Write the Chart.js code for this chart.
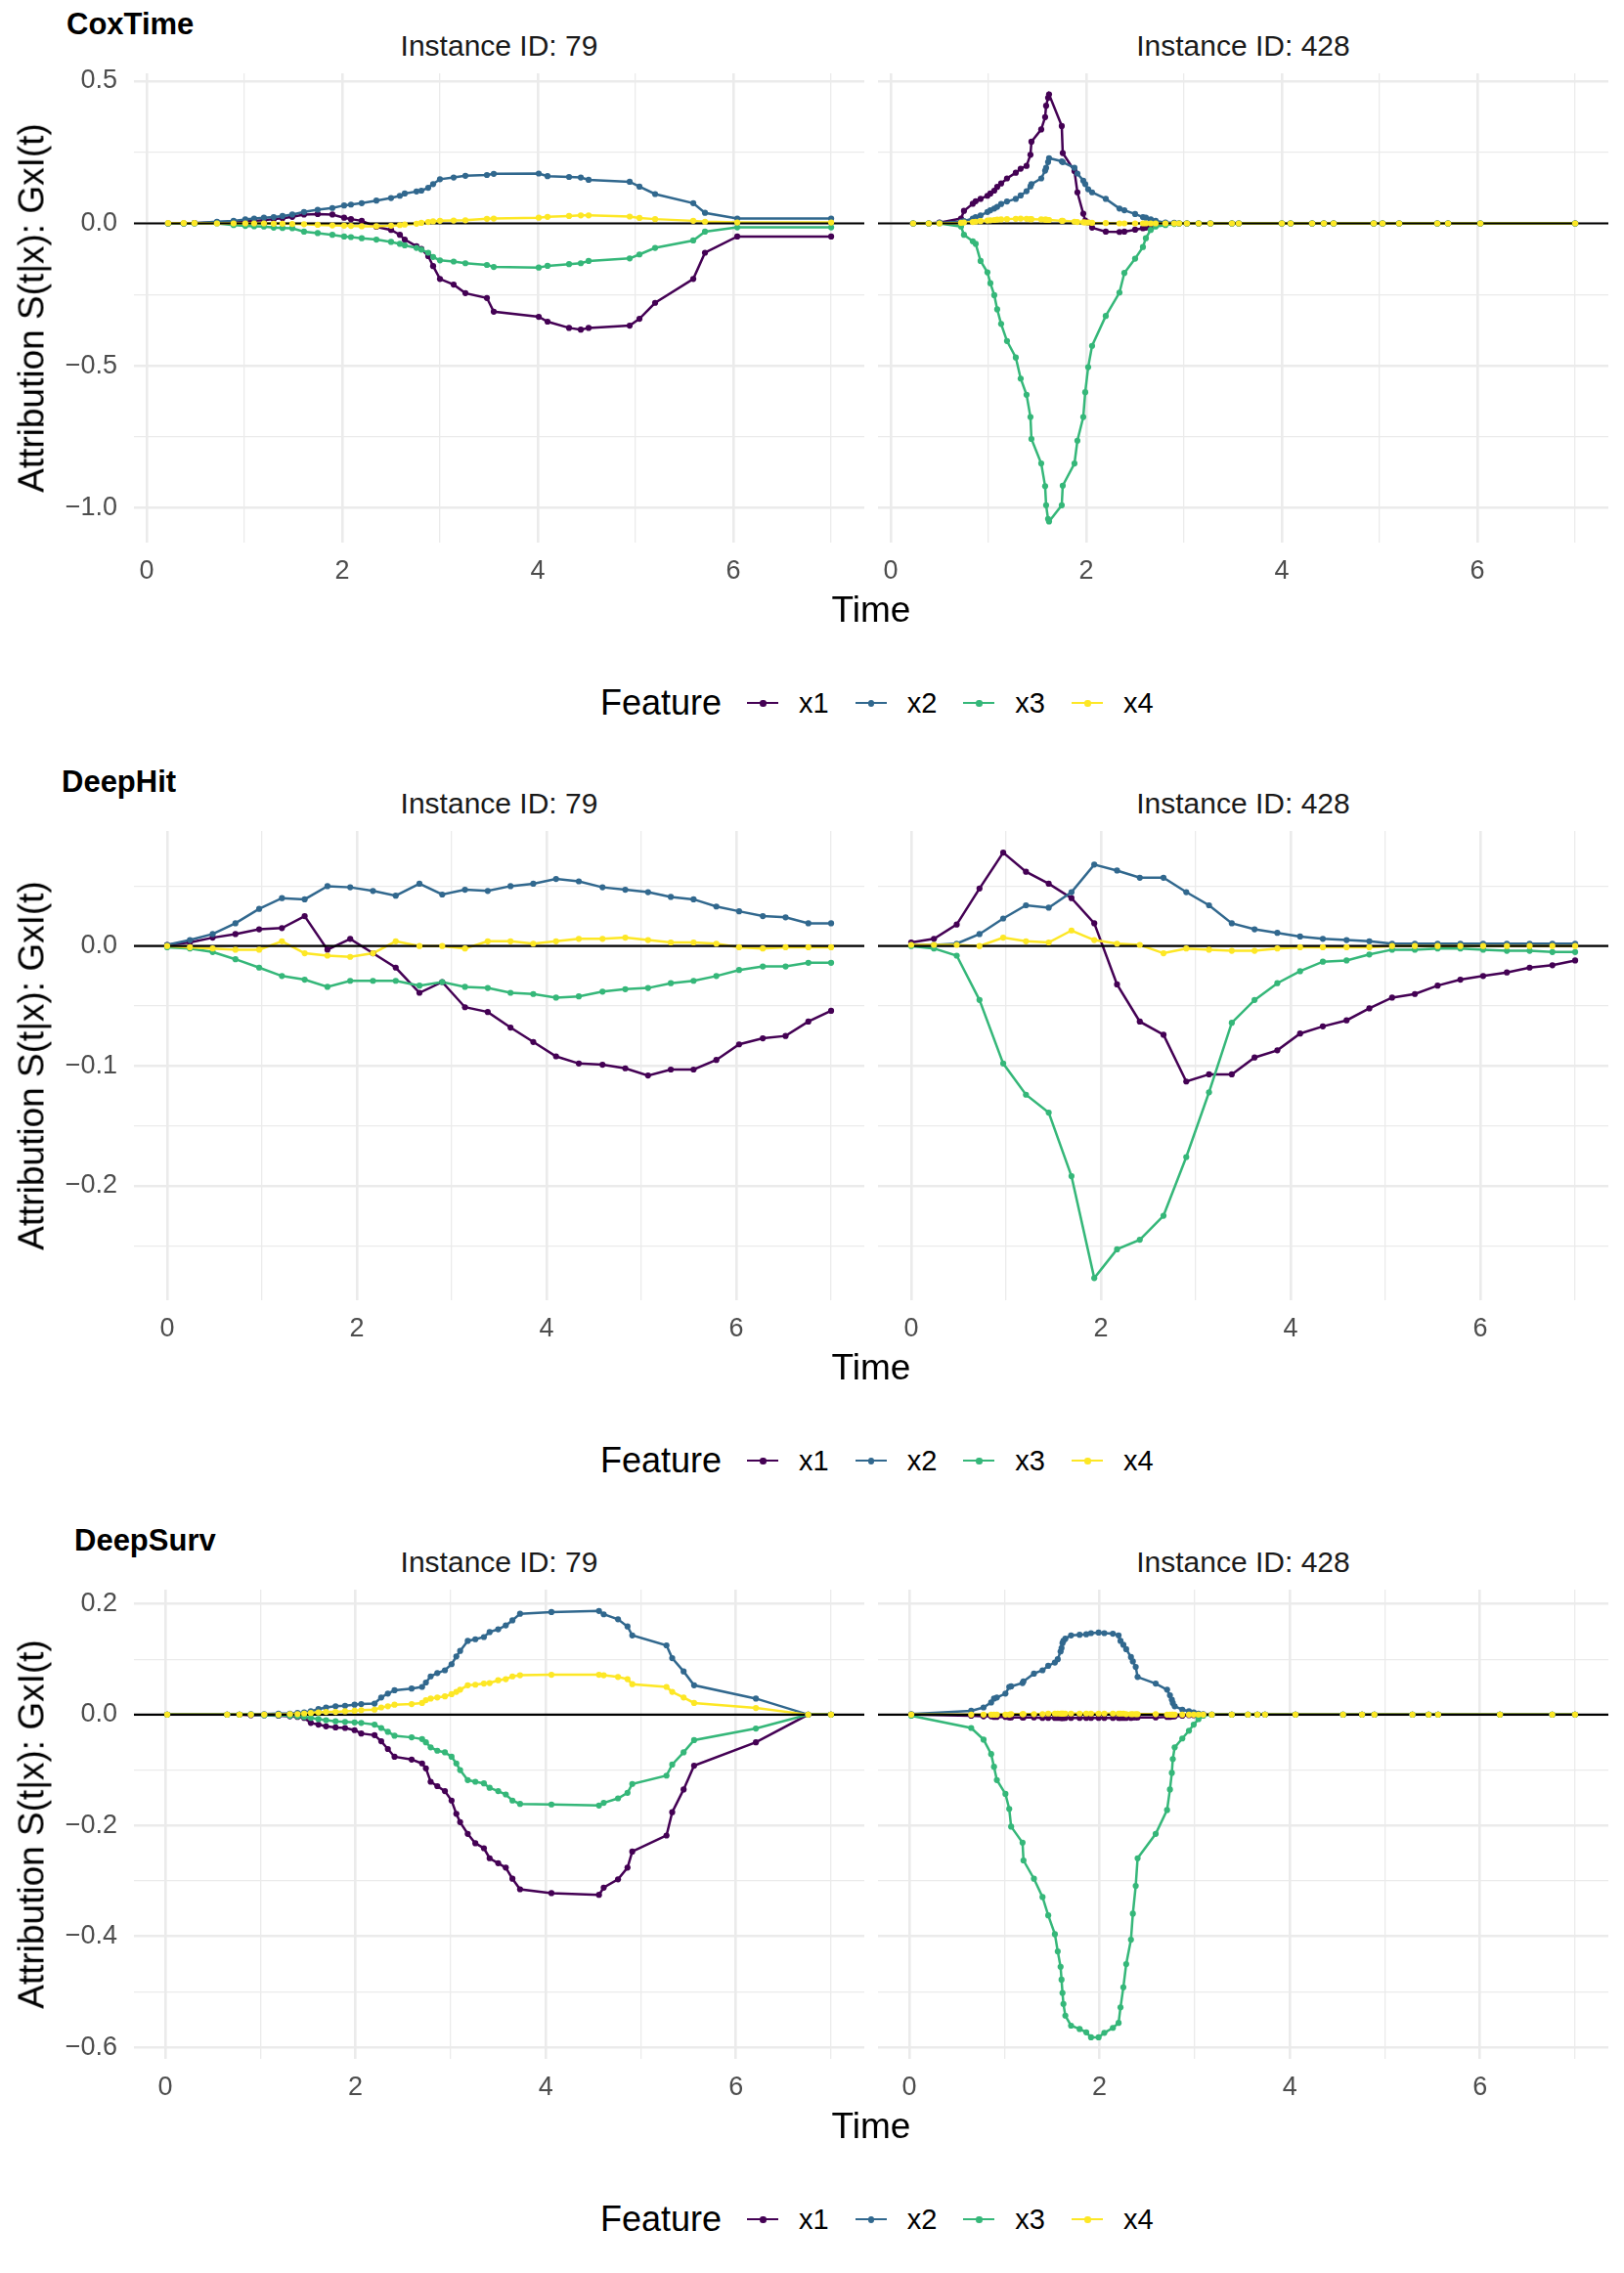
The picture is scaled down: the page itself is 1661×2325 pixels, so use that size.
<!DOCTYPE html>
<html>
<head>
<meta charset="utf-8">
<script src="https://cdn.jsdelivr.net/npm/chart.js@4.4.1/dist/chart.umd.min.js"></script>
<style>
  html, body { margin: 0; padding: 0; background: #fff; }
  #page { position: relative; width: 1661px; height: 2325px; overflow: hidden; font-family: 'Liberation Sans', Arial, sans-serif; }
  .txt { position: absolute; white-space: nowrap; line-height: 1; }
  canvas { position: absolute; }
  .key { display: inline-block; position: relative; width: 32px; height: 10px; vertical-align: middle; }
  .key .ln { position: absolute; left: 0; right: 0; top: 4px; height: 2.4px; }
  .key .dt { position: absolute; left: 13px; top: 2px; width: 6.5px; height: 6.5px; border-radius: 3.25px; }
</style>
</head>
<body>
<div id="page"></div>
<script>
/* Attribution curves S(t|x): GxI(t) for three survival models,
   two instances each. One Chart.js line chart per panel. */

var FEATURES = ['x1', 'x2', 'x3', 'x4'];
var COLORS = ['#440154', '#31688E', '#35B779', '#FDE725'];
var INSTANCES = ['Instance ID: 79', 'Instance ID: 428'];

// tick positions
var X_TICKS = [0, 1, 2, 3, 4, 5, 6, 7];
var Y_TICKS_COX = [-1, -0.75, -0.5, -0.25, 0, 0.25, 0.5];
var Y_TICKS_DH = [-0.25, -0.2, -0.15, -0.1, -0.05, 0, 0.05];
var Y_TICKS_DS = [-0.6, -0.5, -0.4, -0.3, -0.2, -0.1, 0, 0.1, 0.2];

// CoxTime, instance 79
var T_COX_79 = [0.22, 0.38, 0.49, 0.72, 0.89, 1.01, 1.10, 1.20, 1.30, 1.39,
  1.49, 1.61, 1.75, 1.90, 2.02, 2.09, 2.20, 2.35, 2.50, 2.59,
  2.64, 2.76, 2.81, 2.88, 2.93, 3.00, 3.14, 3.26, 3.48, 3.55,
  4.01, 4.10, 4.32, 4.44, 4.52, 4.94, 5.04, 5.20, 5.59, 5.71,
  6.04, 7.00];
var COX_79_X1 = [0, 0, 0.001, 0.003, 0.006, 0.008, 0.009, 0.011, 0.015, 0.018,
  0.023, 0.031, 0.033, 0.031, 0.020, 0.015, 0.009, -0.012, -0.023, -0.040,
  -0.057, -0.080, -0.090, -0.115, -0.150, -0.195, -0.215, -0.245, -0.262, -0.310,
  -0.328, -0.345, -0.367, -0.373, -0.367, -0.359, -0.335, -0.279, -0.195, -0.103,
  -0.046, -0.046];
var COX_79_X2 = [0, 0, 0.001, 0.006, 0.009, 0.014, 0.017, 0.020, 0.022, 0.026,
  0.031, 0.040, 0.048, 0.054, 0.063, 0.066, 0.071, 0.080, 0.089, 0.097,
  0.105, 0.112, 0.115, 0.125, 0.138, 0.155, 0.161, 0.167, 0.170, 0.174,
  0.175, 0.166, 0.163, 0.161, 0.153, 0.146, 0.129, 0.103, 0.071, 0.037,
  0.017, 0.017];
var COX_79_X3 = [0, 0, 0, 0, -0.006, -0.009, -0.010, -0.011, -0.015, -0.016,
  -0.017, -0.029, -0.034, -0.040, -0.046, -0.048, -0.052, -0.057, -0.065, -0.072,
  -0.077, -0.086, -0.092, -0.103, -0.118, -0.130, -0.134, -0.140, -0.146, -0.153,
  -0.155, -0.149, -0.143, -0.140, -0.132, -0.123, -0.109, -0.086, -0.060, -0.029,
  -0.014, -0.014];
var COX_79_X4 = [0.001, 0.001, 0.001, 0, 0, 0, 0, 0, -0.001, -0.001,
  -0.002, -0.003, -0.005, -0.007, -0.008, -0.009, -0.010, -0.010, -0.008, -0.006,
  -0.004, -0.001, 0.002, 0.005, 0.007, 0.009, 0.010, 0.011, 0.016, 0.017,
  0.020, 0.023, 0.026, 0.028, 0.028, 0.024, 0.019, 0.015, 0.009, 0.006,
  0.003, 0.003];

// CoxTime, instance 428
var T_COX_428 = [0.23, 0.39, 0.50, 0.72, 0.75, 0.84, 0.87, 0.92, 0.99, 1.02,
  1.06, 1.09, 1.13, 1.19, 1.28, 1.33, 1.39, 1.43, 1.44, 1.54,
  1.58, 1.59, 1.61, 1.62, 1.75, 1.76, 1.88, 1.91, 1.97, 1.99,
  2.02, 2.06, 2.20, 2.34, 2.39, 2.50, 2.58, 2.61, 2.66, 2.71,
  2.81, 2.90, 2.95, 3.03, 3.15, 3.27, 3.49, 3.56, 4.00, 4.09,
  4.31, 4.43, 4.53, 4.94, 5.03, 5.20, 5.59, 5.70, 6.03, 7.00];
var COX_428_X1 = [0, 0, 0.003, 0.017, 0.044, 0.069, 0.078, 0.086, 0.097, 0.105,
  0.115, 0.128, 0.140, 0.158, 0.178, 0.192, 0.202, 0.241, 0.287, 0.330,
  0.373, 0.413, 0.441, 0.453, 0.342, 0.247, 0.184, 0.109, 0.034, 0.010,
  0.003, -0.015, -0.029, -0.030, -0.029, -0.022, -0.017, -0.015, -0.012, -0.006,
  0, 0, 0, 0, 0, 0, 0, 0, 0, 0,
  0, 0, 0, 0, 0, 0, 0, 0, 0, 0];
var COX_428_X2 = [0, 0, 0.002, 0.006, 0.008, 0.017, 0.022, 0.028, 0.040, 0.046,
  0.052, 0.058, 0.068, 0.077, 0.086, 0.098, 0.113, 0.130, 0.138, 0.158,
  0.185, 0.195, 0.215, 0.229, 0.218, 0.215, 0.195, 0.175, 0.150, 0.138,
  0.120, 0.109, 0.086, 0.052, 0.046, 0.033, 0.022, 0.020, 0.014, 0.009,
  0.003, 0.002, 0, 0, 0, 0, 0, 0, 0, 0,
  0, 0, 0, 0, 0, 0, 0, 0, 0, 0];
var COX_428_X3 = [0, 0, 0, -0.011, -0.040, -0.063, -0.072, -0.132, -0.172, -0.210,
  -0.252, -0.302, -0.353, -0.413, -0.471, -0.545, -0.602, -0.680, -0.757, -0.843,
  -0.923, -0.990, -1.038, -1.047, -0.990, -0.921, -0.843, -0.763, -0.680, -0.593,
  -0.505, -0.430, -0.325, -0.243, -0.174, -0.124, -0.083, -0.052, -0.023, -0.011,
  -0.006, -0.002, 0, 0, 0, 0, 0, 0, 0, 0,
  0, 0, 0, 0, 0, 0, 0, 0, 0, 0];
var COX_428_X4 = [0, 0, 0, 0.002, 0.003, 0.005, 0.006, 0.008, 0.010, 0.011,
  0.012, 0.013, 0.014, 0.015, 0.016, 0.017, 0.016, 0.015, 0.015, 0.014,
  0.013, 0.013, 0.012, 0.012, 0.009, 0.009, 0.006, 0.005, 0.004, 0.003,
  0.003, 0.002, 0.001, 0, 0, 0, 0, 0, 0, 0,
  0, 0, 0, 0, 0, 0, 0, 0, 0, 0,
  0, 0, 0, 0, 0, 0, 0, 0, 0, 0];

// DeepHit, both instances share the time grid
var T_DH = [0, 0.24, 0.48, 0.72, 0.97, 1.21, 1.45, 1.69, 1.93, 2.17,
  2.41, 2.66, 2.90, 3.14, 3.38, 3.62, 3.86, 4.10, 4.34, 4.59,
  4.83, 5.07, 5.31, 5.55, 5.79, 6.03, 6.28, 6.52, 6.76, 7.00];
var DH_79_X1 = [0.001, 0.003, 0.007, 0.010, 0.014, 0.015, 0.025, -0.003, 0.006, -0.006,
  -0.018, -0.039, -0.030, -0.051, -0.055, -0.068, -0.080, -0.092, -0.098, -0.099,
  -0.102, -0.108, -0.103, -0.103, -0.095, -0.082, -0.077, -0.075, -0.063, -0.054];
var DH_79_X2 = [0.001, 0.005, 0.010, 0.019, 0.031, 0.040, 0.039, 0.050, 0.049, 0.046,
  0.042, 0.052, 0.043, 0.047, 0.046, 0.050, 0.052, 0.056, 0.054, 0.049,
  0.047, 0.045, 0.041, 0.039, 0.033, 0.029, 0.025, 0.024, 0.019, 0.019];
var DH_79_X3 = [-0.001, -0.002, -0.005, -0.011, -0.018, -0.025, -0.028, -0.034, -0.029, -0.029,
  -0.029, -0.033, -0.030, -0.034, -0.035, -0.039, -0.040, -0.043, -0.042, -0.038,
  -0.036, -0.035, -0.031, -0.029, -0.025, -0.020, -0.017, -0.017, -0.014, -0.014];
var DH_79_X4 = [0, -0.001, -0.002, -0.003, -0.003, 0.004, -0.006, -0.008, -0.009, -0.006,
  0.004, 0, 0, -0.002, 0.004, 0.004, 0.002, 0.004, 0.006, 0.006,
  0.007, 0.005, 0.003, 0.003, 0.002, -0.001, -0.002, -0.001, -0.001, -0.001];
var DH_428_X1 = [0.003, 0.006, 0.018, 0.048, 0.078, 0.062, 0.052, 0.040, 0.019, -0.032,
  -0.063, -0.074, -0.113, -0.107, -0.107, -0.093, -0.087, -0.073, -0.067, -0.062,
  -0.052, -0.043, -0.040, -0.033, -0.028, -0.025, -0.022, -0.018, -0.016, -0.012];
var DH_428_X2 = [0.001, 0.001, 0.002, 0.010, 0.023, 0.034, 0.032, 0.045, 0.068, 0.063,
  0.057, 0.057, 0.045, 0.034, 0.019, 0.014, 0.011, 0.008, 0.006, 0.005,
  0.004, 0.002, 0.002, 0.002, 0.002, 0.002, 0.002, 0.002, 0.002, 0.002];
var DH_428_X3 = [0, -0.002, -0.008, -0.045, -0.098, -0.124, -0.139, -0.192, -0.277, -0.253,
  -0.245, -0.225, -0.176, -0.122, -0.064, -0.045, -0.031, -0.021, -0.013, -0.012,
  -0.007, -0.003, -0.003, -0.002, -0.002, -0.003, -0.004, -0.004, -0.005, -0.005];
var DH_428_X4 = [0.001, 0.001, 0.001, 0, 0.007, 0.004, 0.003, 0.013, 0.005, 0.002,
  0.001, -0.006, -0.002, -0.003, -0.004, -0.004, -0.002, -0.001, -0.001, -0.001,
  -0.001, 0, 0, 0, 0, 0, 0, 0, 0, 0];

// DeepSurv, instance 79
var T_DS_79 = [0.02, 0.65, 0.78, 0.90, 1.04, 1.19, 1.31, 1.39, 1.46, 1.53,
  1.61, 1.69, 1.79, 1.89, 1.99, 2.06, 2.20, 2.27, 2.34, 2.41,
  2.59, 2.70, 2.74, 2.79, 2.86, 2.94, 3.01, 3.06, 3.10, 3.18,
  3.26, 3.35, 3.41, 3.50, 3.58, 3.65, 3.73, 4.06, 4.56, 4.61,
  4.76, 4.86, 4.91, 5.27, 5.33, 5.45, 5.56, 6.21, 6.76, 7.00];
var DS_79_X1 = [0, 0, 0, -0.001, -0.001, -0.002, -0.003, -0.004, -0.006, -0.015,
  -0.018, -0.021, -0.023, -0.024, -0.028, -0.034, -0.037, -0.048, -0.062, -0.076,
  -0.081, -0.088, -0.097, -0.121, -0.129, -0.138, -0.155, -0.179, -0.194, -0.215,
  -0.232, -0.241, -0.259, -0.268, -0.276, -0.296, -0.315, -0.322, -0.325, -0.312,
  -0.297, -0.276, -0.247, -0.218, -0.176, -0.135, -0.092, -0.050, 0, 0];
var DS_79_X2 = [0, 0, 0, 0.001, 0.001, 0.002, 0.002, 0.003, 0.004, 0.006,
  0.010, 0.013, 0.015, 0.016, 0.018, 0.019, 0.020, 0.031, 0.038, 0.044,
  0.047, 0.050, 0.058, 0.069, 0.075, 0.080, 0.091, 0.105, 0.115, 0.133,
  0.136, 0.140, 0.149, 0.154, 0.161, 0.170, 0.182, 0.185, 0.187, 0.181,
  0.172, 0.159, 0.143, 0.125, 0.102, 0.078, 0.053, 0.029, 0, 0];
var DS_79_X3 = [0, 0, 0, 0, -0.001, -0.001, -0.002, -0.003, -0.004, -0.006,
  -0.008, -0.010, -0.012, -0.013, -0.014, -0.015, -0.018, -0.024, -0.031, -0.038,
  -0.041, -0.044, -0.050, -0.059, -0.065, -0.068, -0.076, -0.088, -0.100, -0.118,
  -0.121, -0.124, -0.132, -0.138, -0.144, -0.155, -0.161, -0.162, -0.164, -0.159,
  -0.151, -0.141, -0.125, -0.110, -0.090, -0.068, -0.046, -0.025, 0, 0];
var DS_79_X4 = [0, 0, 0, 0, 0, 0, 0.001, 0.001, 0.002, 0.003,
  0.004, 0.005, 0.005, 0.006, 0.007, 0.008, 0.009, 0.013, 0.015, 0.018,
  0.019, 0.021, 0.026, 0.029, 0.031, 0.033, 0.037, 0.041, 0.045, 0.053,
  0.054, 0.056, 0.057, 0.062, 0.064, 0.069, 0.071, 0.072, 0.072, 0.071,
  0.068, 0.064, 0.055, 0.050, 0.041, 0.031, 0.021, 0.012, 0, 0];

// DeepSurv, instance 428
var T_DS_428 = [0.02, 0.65, 0.78, 0.86, 0.89, 0.92, 1.01, 1.05, 1.07, 1.19,
  1.20, 1.31, 1.40, 1.46, 1.53, 1.56, 1.59, 1.60, 1.61, 1.62,
  1.64, 1.70, 1.79, 1.86, 1.91, 1.99, 2.05, 2.14, 2.20, 2.22,
  2.25, 2.28, 2.33, 2.35, 2.38, 2.40, 2.59, 2.71, 2.74, 2.76,
  2.77, 2.79, 2.87, 2.94, 2.99, 3.04, 3.09, 3.18, 3.39, 3.56,
  3.66, 3.74, 4.06, 4.56, 4.76, 4.89, 5.29, 5.46, 5.56, 6.21,
  6.76, 7.00];
var DS_428_X1 = [0, -0.002, -0.003, -0.003, -0.004, -0.004, -0.004, -0.005, -0.005, -0.005,
  -0.005, -0.005, -0.006, -0.006, -0.006, -0.006, -0.006, -0.006, -0.006, -0.006,
  -0.006, -0.006, -0.006, -0.006, -0.006, -0.006, -0.006, -0.006, -0.006, -0.006,
  -0.006, -0.006, -0.006, -0.005, -0.005, -0.005, -0.005, -0.004, -0.004, -0.003,
  -0.003, -0.003, -0.002, -0.001, -0.001, 0, 0, 0, 0, 0,
  0, 0, 0, 0, 0, 0, 0, 0, 0, 0,
  0, 0];
var DS_428_X2 = [0.001, 0.007, 0.013, 0.022, 0.029, 0.031, 0.038, 0.050, 0.051, 0.057,
  0.060, 0.074, 0.080, 0.088, 0.094, 0.100, 0.114, 0.120, 0.129, 0.133,
  0.137, 0.143, 0.144, 0.145, 0.147, 0.148, 0.147, 0.146, 0.143, 0.133,
  0.126, 0.118, 0.104, 0.096, 0.086, 0.068, 0.056, 0.045, 0.035, 0.027,
  0.021, 0.015, 0.009, 0.006, 0.004, 0.002, 0.001, 0, 0, 0,
  0, 0, 0, 0, 0, 0, 0, 0, 0, 0,
  0, 0];
var DS_428_X3 = [-0.002, -0.024, -0.045, -0.071, -0.094, -0.118, -0.143, -0.170, -0.202, -0.231,
  -0.263, -0.296, -0.329, -0.362, -0.396, -0.427, -0.455, -0.478, -0.502, -0.522,
  -0.543, -0.561, -0.567, -0.573, -0.582, -0.582, -0.574, -0.565, -0.556, -0.528,
  -0.492, -0.450, -0.406, -0.359, -0.309, -0.259, -0.215, -0.172, -0.135, -0.105,
  -0.080, -0.059, -0.043, -0.029, -0.018, -0.008, -0.002, 0, 0, 0,
  0, 0, 0, 0, 0, 0, 0, 0, 0, 0,
  0, 0];
var DS_428_X4 = [0, 0, 0, 0, 0, 0, 0, 0, 0.001, 0.001,
  0.001, 0.001, 0.001, 0.002, 0.002, 0.002, 0.002, 0.002, 0.002, 0.002,
  0.002, 0.002, 0.002, 0.002, 0.002, 0.002, 0.002, 0.002, 0.002, 0.002,
  0.002, 0.001, 0.001, 0.001, 0.001, 0.001, 0.001, 0, 0, 0,
  0, 0, 0, 0, 0, 0, 0, 0, 0, 0,
  0, 0, 0, 0, 0, 0, 0, 0, 0, 0,
  0, 0];

(function () {
  var FONT = "'Liberation Sans', Arial, sans-serif";
  var page = document.getElementById('page');

  // one row per model: left panel = instance 79, right = 428
  var rows = [
    { title: 'CoxTime', titleX: 68, top: 75,
      times: [T_COX_79, T_COX_428],
      values: [[COX_79_X1, COX_79_X2, COX_79_X3, COX_79_X4], [COX_428_X1, COX_428_X2, COX_428_X3, COX_428_X4]],
      xMin: -0.129, xMax: 7.339, yMin: -1.121, yMax: 0.527, yTicks: Y_TICKS_COX, yMajor: 0.5 },
    { title: 'DeepHit', titleX: 63, top: 850,
      times: [T_DH, T_DH],
      values: [[DH_79_X1, DH_79_X2, DH_79_X3, DH_79_X4], [DH_428_X1, DH_428_X2, DH_428_X3, DH_428_X4]],
      xMin: -0.35, xMax: 7.35, yMin: -0.2955, yMax: 0.096, yTicks: Y_TICKS_DH, yMajor: 0.1 },
    { title: 'DeepSurv', titleX: 76, top: 1626,
      times: [T_DS_79, T_DS_428],
      values: [[DS_79_X1, DS_79_X2, DS_79_X3, DS_79_X4], [DS_428_X1, DS_428_X2, DS_428_X3, DS_428_X4]],
      xMin: -0.33, xMax: 7.35, yMin: -0.621, yMax: 0.2255, yTicks: Y_TICKS_DS, yMajor: 0.2 }
  ];

  // spare padding on every side so edge tick labels never shrink the plot area
  var PANEL_W = 747, PANEL_H = 480, Y_AXIS_W = 137, X_AXIS_H = 60;
  var PAD_TOP = 40, PAD_RIGHT = 10, PAD_LEFT = 12;
  var PANEL_LEFT = [137, 898];

  function isMajor(v, step) {
    var k = Math.round(v / step);
    return Math.abs(k * step - v) < 1e-9;
  }

  function fmtY(v) {
    if (Math.abs(v) < 1e-9) return '0.0';
    return v.toFixed(1).replace('-', '\u2212');
  }

  function toXY(times, vals) {
    return times.map(function (t, i) { return { x: t, y: vals[i] }; });
  }

  function addText(text, css) {
    var d = document.createElement('div');
    d.className = 'txt';
    d.textContent = text;
    for (var k in css) d.style[k] = css[k];
    page.appendChild(d);
    return d;
  }

  // black reference line at y = 0, drawn after the lines and before the points
  var zeroLine = {
    id: 'zeroLine',
    afterDatasetDraw: function (chart, args) {
      if (args.index !== 3) return;
      var y = chart.scales.y.getPixelForValue(0);
      var a = chart.chartArea;
      var c = chart.ctx;
      c.save();
      c.strokeStyle = '#000000';
      c.lineWidth = 2.2;
      c.beginPath();
      c.moveTo(a.left, y);
      c.lineTo(a.right, y);
      c.stroke();
      c.restore();
    }
  };

  function buildDatasets(times, values) {
    var sets = [];
    for (var i = 0; i < 4; i++) {
      sets.push({
        label: FEATURES[i], data: toXY(times, values[i]),
        borderColor: COLORS[i], borderWidth: 2.5, pointRadius: 0,
        tension: 0, fill: false, order: 7 - i
      });
    }
    for (var j = 0; j < 4; j++) {
      sets.push({
        label: FEATURES[j], data: toXY(times, values[j]), showLine: false,
        pointRadius: 3.1, pointBackgroundColor: COLORS[j], pointBorderWidth: 0,
        borderColor: COLORS[j], order: 3 - j
      });
    }
    return sets;
  }

  function makePanel(row, p) {
    var yw = p === 0 ? Y_AXIS_W : 0;
    var padLeft = p === 0 ? 0 : PAD_LEFT;
    var canvas = document.createElement('canvas');
    var w = padLeft + yw + PANEL_W + PAD_RIGHT;
    var h = PAD_TOP + PANEL_H + X_AXIS_H;
    canvas.width = w;
    canvas.height = h;
    canvas.style.width = w + 'px';
    canvas.style.height = h + 'px';
    canvas.style.left = (PANEL_LEFT[p] - yw - padLeft) + 'px';
    canvas.style.top = (row.top - PAD_TOP) + 'px';
    page.appendChild(canvas);

    new Chart(canvas.getContext('2d'), {
      type: 'line',
      data: { datasets: buildDatasets(row.times[p], row.values[p]) },
      plugins: [zeroLine],
      options: {
        responsive: false,
        animation: false,
        devicePixelRatio: 1,
        layout: { padding: { top: PAD_TOP, right: PAD_RIGHT, left: padLeft, bottom: 0 } },
        plugins: { legend: { display: false }, tooltip: { enabled: false } },
        scales: {
          x: {
            type: 'linear', min: row.xMin, max: row.xMax,
            afterFit: function (s) { s.height = X_AXIS_H; },
            afterBuildTicks: function (s) {
              s.ticks = X_TICKS.map(function (v) { return { value: v }; });
            },
            border: { display: false },
            grid: {
              color: '#EBEBEB', drawTicks: false,
              lineWidth: function (ctx) { return ctx.tick && ctx.tick.value % 2 === 0 ? 2.6 : 1.3; }
            },
            ticks: {
              padding: 13, color: '#4D4D4D', font: { family: FONT, size: 27 },
              autoSkip: false, maxRotation: 0,
              callback: function (v) { return v % 2 === 0 ? String(v) : ''; }
            }
          },
          y: {
            type: 'linear', min: row.yMin, max: row.yMax,
            afterFit: function (s) { s.width = yw; },
            afterBuildTicks: function (s) {
              s.ticks = row.yTicks.map(function (v) { return { value: v }; });
            },
            border: { display: false },
            grid: {
              color: '#EBEBEB', drawTicks: false,
              lineWidth: function (ctx) { return ctx.tick && isMajor(ctx.tick.value, row.yMajor) ? 2.6 : 1.3; }
            },
            ticks: {
              display: p === 0, padding: 17, color: '#4D4D4D', font: { family: FONT, size: 27 },
              autoSkip: false,
              callback: function (v) { return isMajor(v, row.yMajor) ? fmtY(v) : ''; }
            }
          }
        }
      }
    });
  }

  function makeLegend(cy) {
    var d = document.createElement('div');
    d.className = 'txt';
    d.style.left = '614px';
    d.style.top = cy + 'px';
    d.style.transform = 'translateY(-50%)';
    d.style.color = '#000';
    var html = '<span style="font-size:36px;vertical-align:middle">Feature</span>';
    for (var i = 0; i < FEATURES.length; i++) {
      html += '<span class="key" style="margin-left:' + (i === 0 ? 26 : 27) + 'px">' +
        '<span class="ln" style="background:' + COLORS[i] + '"></span>' +
        '<span class="dt" style="background:' + COLORS[i] + '"></span></span>' +
        '<span style="font-size:29px;margin-left:21px;vertical-align:middle">' + FEATURES[i] + '</span>';
    }
    d.innerHTML = html;
    page.appendChild(d);
  }

  rows.forEach(function (row) {
    var R = row.top;
    addText(row.title, { left: row.titleX + 'px', top: (R - 51.5) + 'px', transform: 'translateY(-50%)',
      fontSize: '31px', fontWeight: 'bold', color: '#000' });
    for (var p = 0; p < 2; p++) {
      addText(INSTANCES[p], { left: (PANEL_LEFT[p] + PANEL_W / 2) + 'px', top: (R - 28) + 'px',
        transform: 'translate(-50%, -50%)', fontSize: '30px', color: '#1A1A1A' });
      makePanel(row, p);
    }
    addText('Time', { left: '891px', top: (R + 548) + 'px', transform: 'translate(-50%, -50%)',
      fontSize: '37px', color: '#000' });
    addText('Attribution S(t|x): GxI(t)', { left: '32px', top: (R + 240) + 'px',
      transform: 'translate(-50%, -50%) rotate(-90deg)', fontSize: '37px', color: '#000' });
    makeLegend(R + 644);
  });
})();
</script>
</body>
</html>
